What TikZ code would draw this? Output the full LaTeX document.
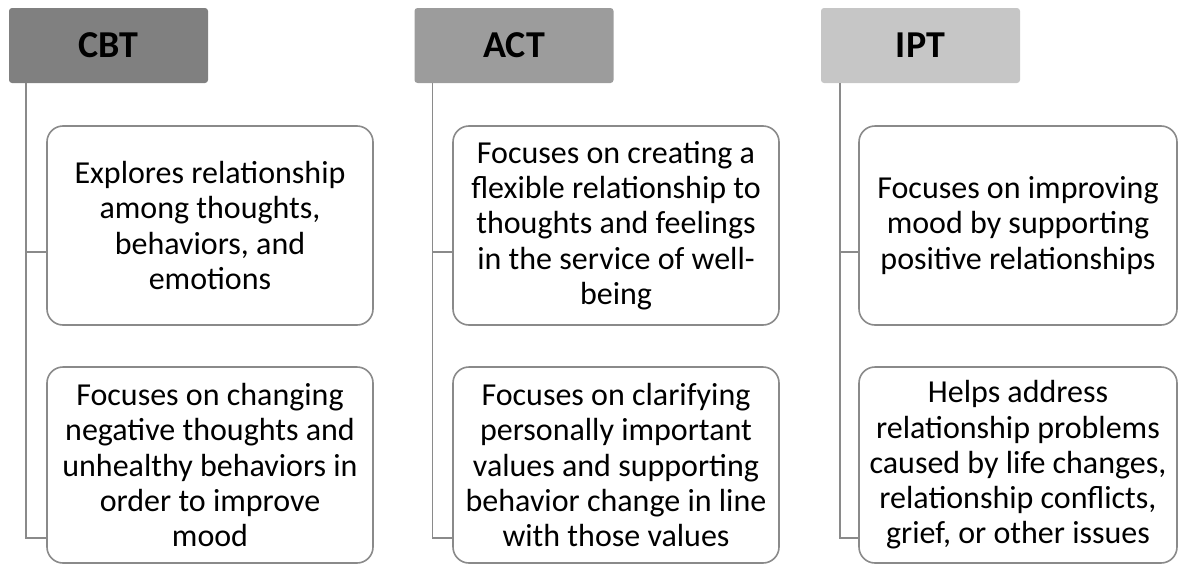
\documentclass[tikz,border=0pt]{standalone}
\usepackage{fontspec}
\setmainfont{Carlito}
\usepackage{tikz}
\usetikzlibrary{positioning,calc}

\definecolor{cbtgray}{HTML}{808080}
\definecolor{actgray}{HTML}{9C9C9C}
\definecolor{iptgray}{HTML}{C6C6C6}
\definecolor{edgegray}{HTML}{8A8A8A}

\begin{document}
\begin{tikzpicture}[x=1pt, y=-1pt,
    head/.style={rounded corners=3pt, minimum width=199pt, minimum height=75pt,
                 inner sep=0pt, font=\fontsize{38}{42}\selectfont\bfseries},
    item/.style={draw=edgegray, line width=1.6pt, rounded corners=16pt, fill=white,
                 minimum width=326pt, inner sep=0pt, align=center,
                 font=\fontsize{32}{35.3}\selectfont},
    link/.style={draw=edgegray, line width=1.6pt}]
    \useasboundingbox (0,0) rectangle (1180,565);

    % headers
    \node[head, fill=cbtgray] (cbt) at (108.5,45.5) {CBT};
    \node[head, fill=actgray] (act) at (514,45.5) {ACT};
    \node[head, fill=iptgray] (ipt) at (920.5,45.5) {IPT};

    % CBT column
    \node[item, minimum height=199pt] (cbt1) at (210,225.5)
        {Explores relationship\\among thoughts,\\behaviors, and\\emotions};
    \node[item, minimum height=196pt] (cbt2) at (210,465)
        {Focuses on changing\\negative thoughts and\\unhealthy behaviors in\\order to improve\\mood};

    % ACT column
    \node[item, minimum height=199pt] (act1) at (616,225.5)
        {Focuses on creating a\\flexible relationship to\\thoughts and feelings\\in the service of well-\\being};
    \node[item, minimum height=196pt] (act2) at (616,465)
        {Focuses on clarifying\\personally important\\values and supporting\\behavior change in line\\with those values};

    % IPT column
    \node[item, minimum width=318pt, minimum height=199pt] (ipt1) at (1018,225.5)
        {Focuses on improving\\mood by supporting\\positive relationships};
    \node[item, minimum width=318pt, minimum height=196pt] (ipt2) at (1018,465)
        {Helps address\\relationship problems\\caused by life changes,\\relationship conflicts,\\grief, or other issues};

    % connectors
    \coordinate (cbt-a) at ($(cbt.south west)+(17,0)$);
    \coordinate (cbt-b1) at (cbt1.west |- 0,252);
    \coordinate (cbt-b2) at (cbt2.west |- 0,538);
    \draw[link] (cbt-a) |- (cbt-b1);
    \draw[link] (cbt-a) |- (cbt-b2);

    \coordinate (act-a) at ($(act.south west)+(18,0)$);
    \coordinate (act-b1) at (act1.west |- 0,252);
    \coordinate (act-b2) at (act2.west |- 0,538);
    \draw[link] (act-a) |- (act-b1);
    \draw[link] (act-a) |- (act-b2);

    \coordinate (ipt-a) at ($(ipt.south west)+(19,0)$);
    \coordinate (ipt-b1) at (ipt1.west |- 0,252);
    \coordinate (ipt-b2) at (ipt2.west |- 0,538);
    \draw[link] (ipt-a) |- (ipt-b1);
    \draw[link] (ipt-a) |- (ipt-b2);
\end{tikzpicture}
\end{document}
